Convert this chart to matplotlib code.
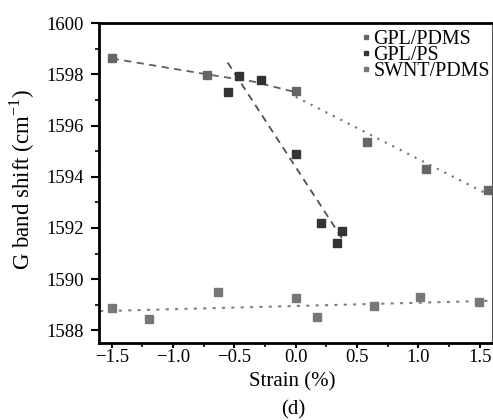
import numpy as np
import matplotlib
matplotlib.use("Agg")
import matplotlib.pyplot as plt
from matplotlib.ticker import MultipleLocator

plt.rcParams['font.family'] = ['Liberation Serif', 'DejaVu Serif']
plt.rcParams['mathtext.fontset'] = 'custom'
plt.rcParams['mathtext.rm'] = 'Liberation Serif'

# data
gpl_pdms_x = [-1.5, -0.72, 0.0, 0.58, 1.06, 1.57]
gpl_pdms_y = [1598.63, 1597.97, 1597.34, 1595.36, 1594.29, 1593.5]

gpl_ps_x = [-0.55, -0.46, -0.28, 0.0, 0.21, 0.34, 0.38]
gpl_ps_y = [1597.3, 1597.94, 1597.77, 1594.9, 1592.21, 1591.41, 1591.89]

swnt_x = [-1.5, -1.2, -0.63, 0.0, 0.17, 0.64, 1.01, 1.49]
swnt_y = [1588.86, 1588.43, 1589.5, 1589.25, 1588.53, 1588.95, 1589.31, 1589.11]

# guide lines
pdms_dash_x = [-1.5, -0.7, -0.35, 0.0]
pdms_dash_y = [1598.62, 1597.98, 1597.72, 1597.3]
pdms_dot_x = [0.0, 1.55]
pdms_dot_y = [1597.12, 1593.35]
ps_fit_x = [-0.555, 0.378]
ps_fit_y = [1598.46, 1591.59]
swnt_fit_x = [-1.595, 1.57]
swnt_fit_y = [1588.75, 1589.15]

xtick_vals = [-1.5, -1.0, -0.5, 0.0, 0.5, 1.0, 1.5]
xtick_labels = ['\u22121.5', '\u22121.0', '\u22120.5', '0.0', '0.5', '1.0', '1.5']

fig = plt.figure(figsize=(4.93, 4.2), dpi=100)
ax = fig.add_axes([0.201, 0.183, 0.797, 0.762])

ax.plot(pdms_dash_x, pdms_dash_y, color='#606060', ls=(0, (4, 3)), lw=1.3)
ax.plot(pdms_dot_x, pdms_dot_y, color='#707070', ls=(0, (1, 3)), lw=1.5)
ax.plot(ps_fit_x, ps_fit_y, color='#505050', ls=(0, (4, 3)), lw=1.3)
ax.plot(swnt_fit_x, swnt_fit_y, color='#808080', ls=(0, (1.5, 3)), lw=1.5)

ax.plot(gpl_pdms_x, gpl_pdms_y, 's', color='#666666', ms=6, label='GPL/PDMS')
ax.plot(gpl_ps_x, gpl_ps_y, 's', color='#333333', ms=6, label='GPL/PS')
ax.plot(swnt_x, swnt_y, 's', color='#777777', ms=6, label='SWNT/PDMS')

ax.set_xlim(-1.603, 1.6)
ax.set_ylim(1587.5, 1600)
ax.xaxis.set_minor_locator(MultipleLocator(0.25))
ax.yaxis.set_major_locator(MultipleLocator(2))
ax.yaxis.set_minor_locator(MultipleLocator(1))
ax.set_xticks(xtick_vals)
ax.set_xticklabels(xtick_labels)

ax.tick_params(which='both', direction='out', labelsize=13.5)
ax.tick_params(axis='x', which='major', length=3.5, width=1.5, pad=0.5)
ax.tick_params(axis='y', which='major', length=6, width=1.5, pad=5)
ax.tick_params(which='minor', length=3, width=1.2)

for s in ['left', 'bottom', 'top']:
    ax.spines[s].set_linewidth(2.0)
ax.spines['right'].set_linewidth(0.8)
ax.spines['right'].set_color('#555555')

ax.set_xlabel('Strain (%)', fontsize=15)
ax.xaxis.set_label_coords(0.492, -0.09)
ax.set_ylabel('G band shift (cm$^{-1}$)', fontsize=16.5)
ax.yaxis.set_label_coords(-0.158, 0.51)
fig.text(0.594, 0.024, '(d)', ha='center', va='center', fontsize=15)

ax.legend(loc='upper right', bbox_to_anchor=(0.995, 0.978), frameon=False, fontsize=14.4,
          handletextpad=0.0, labelspacing=-0.15, markerscale=0.6, borderaxespad=0,
          handlelength=0.8, borderpad=0)

fig.savefig('out.png', dpi=100)
